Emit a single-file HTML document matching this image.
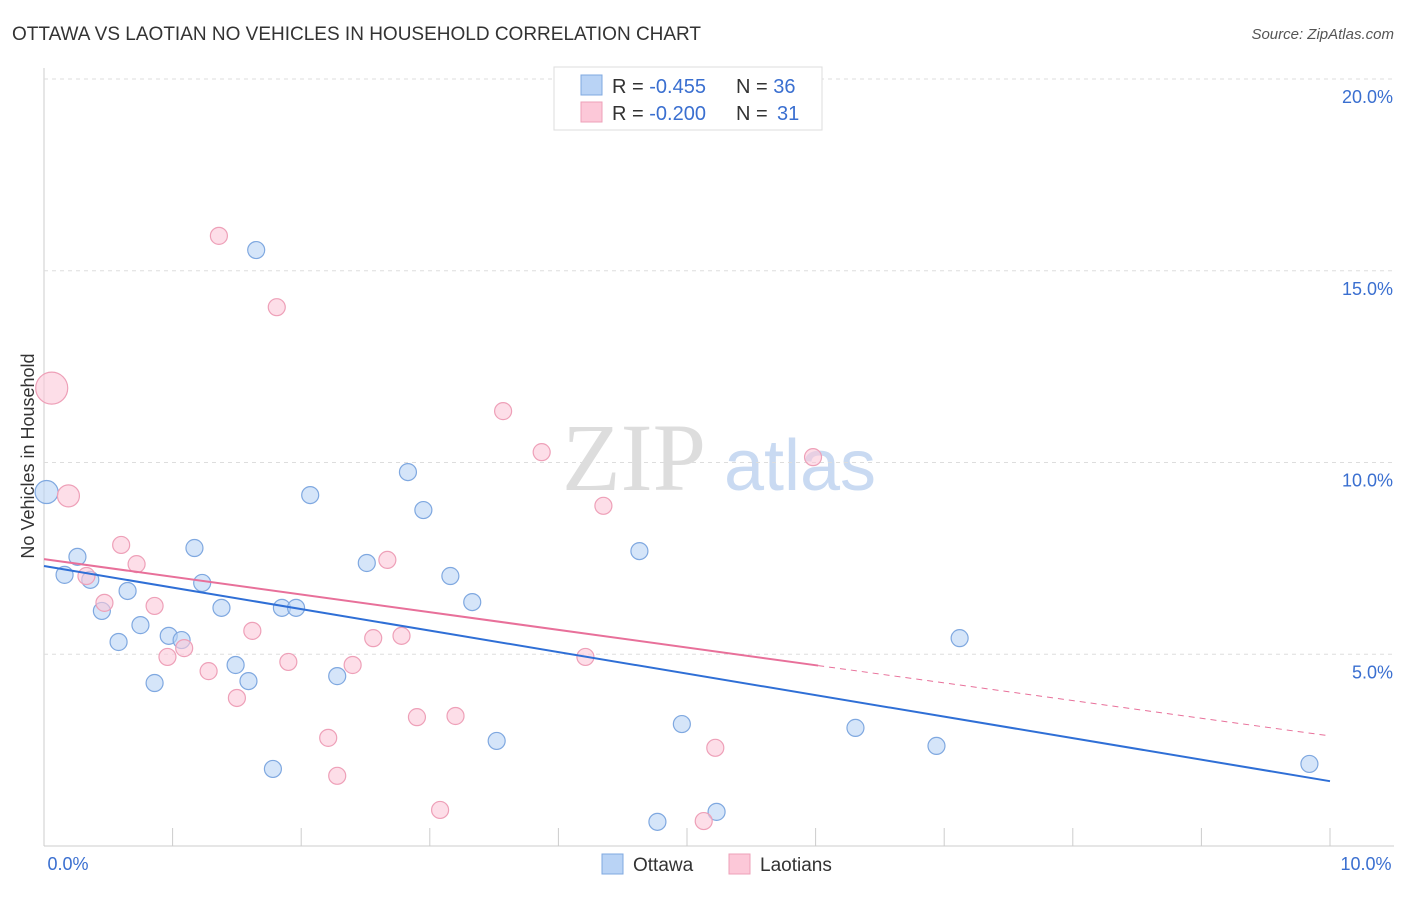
<!DOCTYPE html>
<html><head><meta charset="utf-8"><style>
body{margin:0;background:#fff;font-family:"Liberation Sans",sans-serif;}
</style></head><body>
<svg id="chart" width="1406" height="892" xmlns="http://www.w3.org/2000/svg" style="font-family:'Liberation Sans',sans-serif">
<text x="12" y="40" font-size="19" fill="#333">OTTAWA VS LAOTIAN NO VEHICLES IN HOUSEHOLD CORRELATION CHART</text>
<text x="1394" y="39" font-size="15" fill="#555" text-anchor="end" font-style="italic">Source: ZipAtlas.com</text>
<text x="634" y="490" font-size="96" fill="#ddd" font-family="Liberation Serif" text-anchor="middle">ZIP</text>
<text x="800" y="490" font-size="72" fill="#c9daf2" text-anchor="middle">atlas</text>
<text x="34" y="456" font-size="18" fill="#333" text-anchor="middle" transform="rotate(-90 34 456)">No Vehicles in Household</text>
<g id="grid"></g><g id="marks"></g>
<g>
<rect x="554" y="67" width="268" height="63" fill="#fff" stroke="#ddd"/>
<rect x="581" y="75" width="21" height="20" fill="#b9d3f5" stroke="#7fa8e0"/>
<rect x="581" y="102" width="21" height="20" fill="#fcc8d8" stroke="#eea0b8"/>
<text x="612" y="93" font-size="20" fill="#333">R = <tspan fill="#3a6fd0">-0.455</tspan><tspan x="736">N = </tspan><tspan fill="#3a6fd0">36</tspan></text>
<text x="612" y="120" font-size="20" fill="#333">R = <tspan fill="#3a6fd0">-0.200</tspan><tspan x="736">N = </tspan><tspan fill="#3a6fd0" x="777">31</tspan></text>
</g>
<g>
<rect x="602" y="854" width="21" height="20" fill="#b9d3f5" stroke="#7fa8e0"/>
<text x="633" y="871" font-size="19" fill="#333">Ottawa</text>
<rect x="729" y="854" width="21" height="20" fill="#fcc8d8" stroke="#eea0b8"/>
<text x="760" y="871" font-size="19" fill="#333">Laotians</text>
</g>
</svg>
<script>
const xTicks=[0,1,2,3,4,5,6,7,8,9,10];
const yTicks=[5,10,15,20];
const ottX=[0.02,0.16,0.26,0.36,0.45,0.58,0.65,0.75,0.86,0.97,1.07,1.17,1.23,1.38,1.49,1.59,1.65,1.78,1.85,1.96,2.07,2.28,2.51,2.83,2.95,3.16,3.33,3.52,4.63,4.77,4.96,5.23,6.31,6.94,7.12,9.84];
const ottY=[9.23,7.07,7.54,6.94,6.13,5.32,6.65,5.76,4.25,5.48,5.37,7.77,6.86,6.21,4.72,4.30,15.54,2.01,6.21,6.21,9.15,4.43,7.38,9.75,8.76,7.04,6.36,2.74,7.69,0.63,3.18,0.89,3.08,2.61,5.42,2.14];
const laoX=[0.06,0.19,0.33,0.47,0.60,0.72,0.86,0.96,1.09,1.28,1.36,1.50,1.62,1.81,1.90,2.21,2.28,2.40,2.56,2.67,2.78,2.90,3.08,3.20,3.57,3.87,4.21,4.35,5.13,5.22,5.98];
const laoY=[11.94,9.13,7.04,6.34,7.85,7.35,6.26,4.93,5.16,4.56,15.91,3.86,5.61,14.05,4.80,2.82,1.83,4.72,5.42,7.46,5.48,3.36,0.94,3.39,11.34,10.27,4.93,8.87,0.65,2.56,10.14];
const ottTrend=[7.30,1.69];
const laoTrend=[7.48,2.87];
const laoSolidEnd=6.02;
const X=v=>44+v*128.6, Y=v=>846-v*38.35;
const NS="http://www.w3.org/2000/svg";
function mk(t,a,p){const e=document.createElementNS(NS,t);for(const k in a)e.setAttribute(k,a[k]);p.appendChild(e);return e;}
const g=document.getElementById('grid'), m=document.getElementById('marks');
let ax=mk('line',{x1:44,y1:68,x2:44,y2:846,stroke:'#ccc'},g);


let bx=mk('line',{x1:44,y1:846,x2:1394,y2:846,stroke:'#ccc'},g);


yTicks.forEach(v=>{
 const l=mk('line',{x1:44,x2:1394,y1:Y(v),y2:Y(v),stroke:'#ddd','stroke-dasharray':'4,4'},g);
 
 
 const t=mk('text',{x:1393,y:Y(v)+24,'font-size':18,fill:'#3a6fd0','text-anchor':'end'},g);
 t.textContent=v.toFixed(1)+'%';
 
 
});
xTicks.forEach(v=>{
 const l=mk('line',{x1:X(v),x2:X(v),y1:828,y2:846,stroke:'#ccc'},g);
 
 
});
[[0,'0.0%',68],[10,'10.0%',1366]].forEach(a=>{
 const t=mk('text',{x:a[2],y:870,'font-size':18,fill:'#3a6fd0','text-anchor':'middle'},g);
 t.textContent=a[1];
 
 
});
function dots(xs,ys,fill,stroke,name,big){
 xs.forEach((x,i)=>{
  const r=big[i]||8.5;
  const c=mk('circle',{cx:X(x),cy:Y(ys[i]),r:r,fill:fill,'fill-opacity':0.6,stroke:stroke,'stroke-width':1.2},m);
  
  
 });
}
dots(ottX,ottY,'#b9d3f5','#7fa8e0','ottawa-point',{0:11.5});
dots(laoX,laoY,'#fcc8d8','#eea0b8','laotians-point',{0:16,1:11});
let t1=mk('line',{x1:X(0),y1:Y(ottTrend[0]),x2:X(10),y2:Y(ottTrend[1]),stroke:'#2f6fd6','stroke-width':2},m);


const ly=x=>laoTrend[0]+(laoTrend[1]-laoTrend[0])*x/10;
let t2=mk('line',{x1:X(0),y1:Y(ly(0)),x2:X(laoSolidEnd),y2:Y(ly(laoSolidEnd)),stroke:'#e8709a','stroke-width':2},m);


let t3=mk('line',{x1:X(laoSolidEnd),y1:Y(ly(laoSolidEnd)),x2:X(10),y2:Y(ly(10)),stroke:'#e8709a','stroke-width':1,'stroke-dasharray':'6,5'},m);


</script>
</body></html>
